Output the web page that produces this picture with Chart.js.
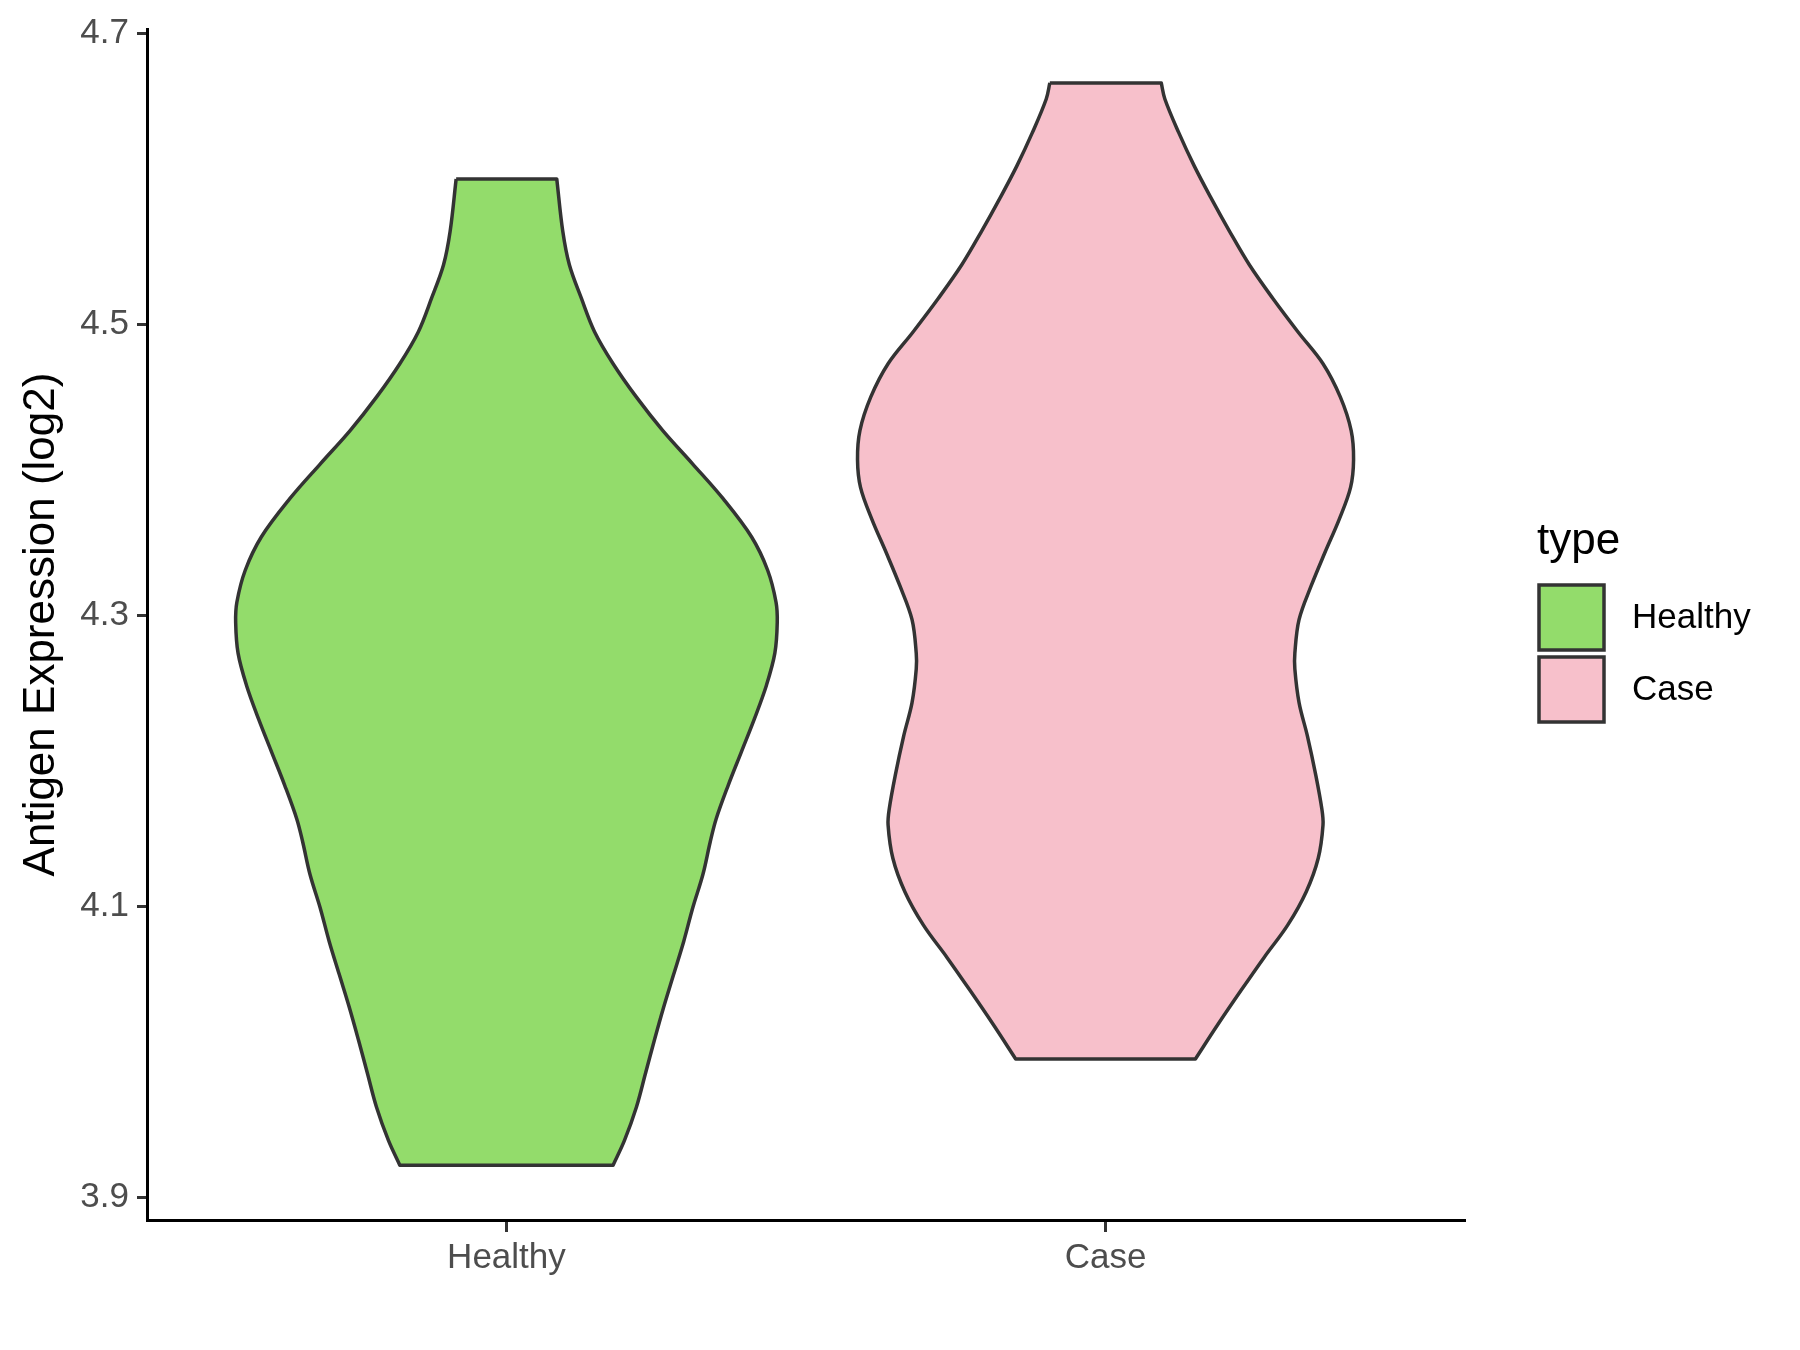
<!DOCTYPE html>
<html>
<head>
<meta charset="utf-8">
<script src="https://cdn.jsdelivr.net/npm/chart.js@4.4.1/dist/chart.umd.min.js"></script>
<style>
  html, body { margin: 0; padding: 0; background: #fff; }
</style>
</head>
<body>
<canvas id="violinChart" width="1800" height="1350"></canvas>
<script>
const categories = ['Healthy', 'Case'];
const yTicks = [3.9, 4.1, 4.3, 4.5, 4.7];
const fillColors = ['rgb(147, 220, 107)', 'rgb(247, 192, 203)'];
const legendTitle = 'type';

// violin outlines: expression level and half width (x units)
const healthyY = [4.600, 4.564, 4.541, 4.518, 4.495, 4.473, 4.450, 4.427, 4.404, 4.380, 4.354,
  4.331, 4.309, 4.295, 4.274, 4.252, 4.229, 4.206, 4.183, 4.160, 4.144, 4.122, 4.099, 4.076,
  4.053, 4.030, 4.008, 3.985, 3.962, 3.939, 3.922];
const healthyWidth = [0.084, 0.094, 0.105, 0.125, 0.147, 0.178, 0.217, 0.261, 0.311, 0.362, 0.409,
  0.436, 0.450, 0.452, 0.448, 0.434, 0.414, 0.392, 0.370, 0.350, 0.340, 0.328, 0.311, 0.296,
  0.279, 0.262, 0.247, 0.232, 0.217, 0.197, 0.178];

const caseY = [4.666, 4.655, 4.632, 4.609, 4.587, 4.564, 4.541, 4.518, 4.495, 4.473, 4.450,
  4.427, 4.407, 4.388, 4.366, 4.343, 4.320, 4.297, 4.274, 4.263, 4.240, 4.217, 4.190, 4.167,
  4.156, 4.133, 4.110, 4.087, 4.065, 4.042, 4.019, 3.995];
const caseWidth = [0.093, 0.099, 0.122, 0.148, 0.176, 0.207, 0.240, 0.279, 0.321, 0.363, 0.392,
  0.410, 0.414, 0.409, 0.390, 0.366, 0.343, 0.323, 0.316, 0.316, 0.323, 0.337, 0.351, 0.361,
  0.363, 0.355, 0.335, 0.304, 0.265, 0.226, 0.188, 0.150];

const fontFamily = '"Liberation Sans", Arial, Helvetica, sans-serif';

// left side going down, right side going back up, then close.
// corner points are doubled so the curve keeps the flat ends straight
function outline(center, ys, widths) {
  const left = ys.map((y, i) => ({ x: center - widths[i], y: y }));
  const right = ys.map((y, i) => ({ x: center + widths[i], y: y })).reverse();
  const n = left.length;
  return [left[0]].concat(left.slice(0, n), [left[n - 1], right[0]], right, [right[n - 1], left[0]]);
}

const typeLegend = {
  id: 'typeLegend',
  afterDraw(chart) {
    const ctx = chart.ctx;
    const x0 = chart.chartArea.right + 74;
    ctx.save();
    ctx.textBaseline = 'middle';
    ctx.textAlign = 'left';
    ctx.fillStyle = '#000';
    ctx.font = '44px ' + fontFamily;
    ctx.fillText(legendTitle, x0 - 2, 542);
    chart.data.datasets.forEach((ds, i) => {
      const top = 585 + i * 72;
      ctx.fillStyle = ds.backgroundColor;
      ctx.fillRect(x0, top, 65, 65);
      ctx.strokeStyle = ds.borderColor;
      ctx.lineWidth = 3.5;
      ctx.strokeRect(x0, top, 65, 65);
      ctx.fillStyle = '#000';
      ctx.font = '35px ' + fontFamily;
      ctx.fillText(ds.label, x0 + 93, top + 33);
    });
    ctx.restore();
  }
};

const ctx = document.getElementById('violinChart');

const violinChart = new Chart(ctx, {
  type: 'scatter',
  data: {
    datasets: [
      {
        label: categories[0],
        data: outline(1, healthyY, healthyWidth),
        backgroundColor: fillColors[0],
        borderColor: '#333333',
        borderWidth: 3.5,
        showLine: true,
        fill: 'shape',
        tension: 0.35,
        pointRadius: 0,
        borderJoinStyle: 'round'
      },
      {
        label: categories[1],
        data: outline(2, caseY, caseWidth),
        backgroundColor: fillColors[1],
        borderColor: '#333333',
        borderWidth: 3.5,
        showLine: true,
        fill: 'shape',
        tension: 0.35,
        pointRadius: 0,
        borderJoinStyle: 'round'
      }
    ]
  },
  options: {
    responsive: false,
    animation: false,
    layout: {
      padding: { left: 0, top: 23, right: 335, bottom: 0 }
    },
    plugins: {
      legend: { display: false },
      tooltip: { enabled: false }
    },
    scales: {
      x: {
        type: 'linear',
        min: 0.4,
        max: 2.6,
        afterBuildTicks: (scale) => {
          scale.ticks = categories.map((c, i) => ({ value: i + 1 }));
        },
        afterFit: (scale) => { scale.height = 130; },
        ticks: {
          callback: (v) => categories[v - 1] || '',
          color: '#4d4d4d',
          font: { size: 35, family: fontFamily },
          padding: 5,
          maxRotation: 0,
          autoSkip: false
        },
        grid: {
          display: true,
          drawOnChartArea: false,
          drawTicks: true,
          tickLength: 12,
          tickWidth: 3,
          tickColor: '#333333'
        },
        border: { display: true, color: '#000', width: 3 }
      },
      y: {
        type: 'linear',
        min: 3.8843,
        max: 4.7031,
        afterBuildTicks: (scale) => {
          scale.ticks = yTicks.map((v) => ({ value: v }));
        },
        afterFit: (scale) => { scale.width = 147; },
        ticks: {
          callback: (v) => v.toFixed(1),
          color: '#4d4d4d',
          font: { size: 35, family: fontFamily },
          padding: 8
        },
        grid: {
          display: true,
          drawOnChartArea: false,
          drawTicks: true,
          tickLength: 10,
          tickWidth: 3,
          tickColor: '#333333'
        },
        border: { display: true, color: '#000', width: 3 },
        title: {
          display: true,
          text: 'Antigen Expression (log2)',
          color: '#000',
          font: { size: 44, family: fontFamily, lineHeight: 1.2 },
          padding: { top: 15, bottom: 0 }
        }
      }
    }
  },
  plugins: [typeLegend]
});
</script>
</body>
</html>
